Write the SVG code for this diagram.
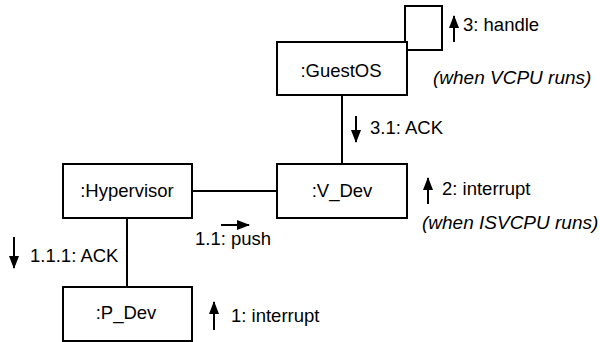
<svg xmlns="http://www.w3.org/2000/svg" width="600" height="342" viewBox="0 0 600 342">
  <defs>
    <style>
      .box { fill: #fff; stroke: #000; stroke-width: 2; }
      .link { fill: none; stroke: #000; stroke-width: 2; }
      .lbl { font-family: "Liberation Sans", Arial, sans-serif; font-size: 18.5px; fill: #000; }
      .name { text-anchor: middle; }
      .note { font-style: italic; font-size: 19px; }
      .msg { stroke: #000; stroke-width: 2; marker-end: url(#head); }
    </style>
    <!-- solid triangular head for message arrows -->
    <marker id="head" viewBox="0 0 13 10" refX="12" refY="5" markerWidth="13" markerHeight="10" orient="auto" markerUnits="userSpaceOnUse">
      <path d="M0,0 L13,5 L0,10 Z" fill="#000"/>
    </marker>
  </defs>

  <!-- links between objects -->
  <g id="connectors">
    <line class="link" x1="342" y1="95" x2="342" y2="164"/>
    <line class="link" x1="192" y1="191" x2="277" y2="191"/>
    <line class="link" x1="127" y1="218" x2="127" y2="287"/>
    <path class="link" d="M405,42 L405,6 L442,6 L442,50 L407,50"/>
  </g>

  <g id="guestos">
    <rect class="box" x="277" y="42" width="130" height="53"/>
    <text class="lbl name" x="341" y="77">:GuestOS</text>
  </g>
  <g id="v_dev">
    <rect class="box" x="277" y="164" width="130" height="54"/>
    <text class="lbl name" x="342" y="197">:V_Dev</text>
  </g>
  <g id="hypervisor">
    <rect class="box" x="63" y="164" width="129" height="54"/>
    <text class="lbl name" x="127" y="197">:Hypervisor</text>
  </g>
  <g id="p_dev">
    <rect class="box" x="63" y="287" width="129" height="54"/>
    <text class="lbl name" x="126" y="319">:P_Dev</text>
  </g>

  <!-- messages -->
  <g id="messages">
    <line class="msg" x1="454" y1="42" x2="454" y2="16"/>
    <text class="lbl" x="463" y="31">3: handle</text>
    <text class="lbl note" x="433" y="84">(when VCPU runs)</text>

    <line class="msg" x1="356" y1="116" x2="356" y2="142"/>
    <text class="lbl" x="370" y="134">3.1: ACK</text>

    <line class="msg" x1="428" y1="204" x2="428" y2="178"/>
    <text class="lbl" x="442" y="195">2: interrupt</text>
    <text class="lbl note" x="422" y="229">(when ISVCPU runs)</text>

    <line class="msg" x1="221" y1="225" x2="249" y2="225"/>
    <text class="lbl" x="195" y="245">1.1: push</text>

    <line class="msg" x1="14" y1="237" x2="14" y2="268"/>
    <text class="lbl" x="30" y="262">1.1.1: ACK</text>

    <line class="msg" x1="214" y1="330" x2="214" y2="302"/>
    <text class="lbl" x="231" y="322">1: interrupt</text>
  </g>
</svg>
